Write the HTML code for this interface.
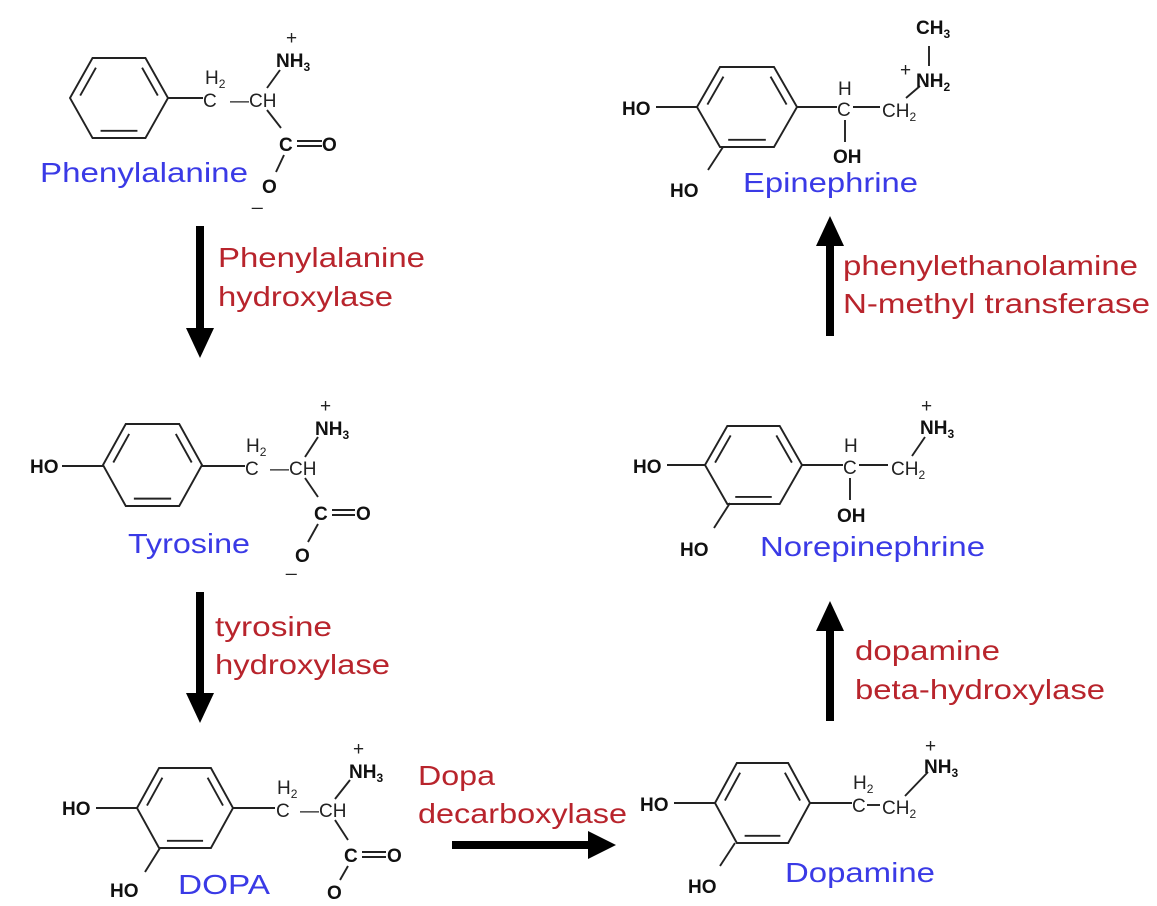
<!DOCTYPE html>
<html><head><meta charset="utf-8">
<style>
html,body{margin:0;padding:0;background:#fff;}
svg{display:block;}
.a{font-family:"Liberation Sans",sans-serif;font-weight:bold;font-size:19px;fill:#111;}
.t{font-family:"Liberation Sans",sans-serif;font-size:19px;fill:#222;}
.s{font-size:12px;}
.lab{font-family:"Liberation Sans",sans-serif;font-size:28px;fill:#3a3ae6;}
.enz{font-family:"Liberation Sans",sans-serif;font-size:28px;fill:#b8242c;}
line,polygon,polyline{stroke:#222;stroke-width:1.9;fill:none;}
</style></head>
<body>
<svg id="s" width="1157" height="906" viewBox="0 0 1157 906" xmlns="http://www.w3.org/2000/svg">
<!-- Phenylalanine -->
<line x1="168" y1="98" x2="203" y2="98"/>
<text class="t" x="203" y="107">C</text><text class="t" x="205" y="84">H<tspan class="s" dy="4">2</tspan></text>
<text class="t" x="230" y="107">—CH</text>
<line x1="267" y1="88" x2="280" y2="70"/>
<text class="a" x="276" y="67">NH<tspan class="s" dy="4">3</tspan></text>
<text class="t" x="286" y="44" font-size="15">+</text>
<line x1="267" y1="110" x2="281" y2="128"/>
<text class="a" x="279" y="151">C</text>
<line x1="297" y1="141" x2="322" y2="141"/><line x1="297" y1="146" x2="322" y2="146"/>
<text class="a" x="322" y="151">O</text>
<line x1="284" y1="155" x2="276" y2="172"/>
<text class="a" x="262" y="193">O</text>
<text class="t" x="252" y="205">_</text>
<text class="lab" x="40" y="182" textLength="208" lengthAdjust="spacingAndGlyphs">Phenylalanine</text>

<!-- Tyrosine -->
<text class="a" x="30" y="473">HO</text>
<line x1="62" y1="466" x2="103" y2="466"/>
<line x1="202" y1="466" x2="245" y2="466"/>
<text class="t" x="245" y="475">C</text><text class="t" x="246" y="452">H<tspan class="s" dy="4">2</tspan></text>
<text class="t" x="270" y="475">—CH</text>
<line x1="305" y1="457" x2="318" y2="437"/>
<text class="a" x="315" y="435">NH<tspan class="s" dy="4">3</tspan></text>
<text class="t" x="320" y="412" font-size="15">+</text>
<line x1="305" y1="478" x2="318" y2="497"/>
<text class="a" x="314" y="520">C</text>
<line x1="332" y1="510" x2="355" y2="510"/><line x1="332" y1="515" x2="355" y2="515"/>
<text class="a" x="356" y="520">O</text>
<line x1="318" y1="524" x2="308" y2="542"/>
<text class="a" x="295" y="562">O</text>
<text class="t" x="286" y="571">_</text>
<text class="lab" x="128" y="553" textLength="122" lengthAdjust="spacingAndGlyphs">Tyrosine</text>

<!-- DOPA -->
<text class="a" x="62" y="815">HO</text>
<line x1="96" y1="808" x2="137" y2="808"/>
<line x1="160" y1="848" x2="145" y2="872"/>
<text class="a" x="110" y="897">HO</text>
<line x1="233" y1="808" x2="275" y2="808"/>
<text class="t" x="276" y="817">C</text><text class="t" x="277" y="794">H<tspan class="s" dy="4">2</tspan></text>
<text class="t" x="300" y="817">—CH</text>
<line x1="335" y1="799" x2="350" y2="780"/>
<text class="a" x="349" y="778">NH<tspan class="s" dy="4">3</tspan></text>
<text class="t" x="353" y="755" font-size="15">+</text>
<line x1="335" y1="820" x2="348" y2="840"/>
<text class="a" x="344" y="862">C</text>
<line x1="362" y1="852" x2="386" y2="852"/><line x1="362" y1="857" x2="386" y2="857"/>
<text class="a" x="387" y="862">O</text>
<line x1="348" y1="866" x2="340" y2="880"/>
<text class="a" x="327" y="899">O</text>
<text class="lab" x="178" y="894" textLength="92" lengthAdjust="spacingAndGlyphs">DOPA</text>

<!-- Dopamine -->
<text class="a" x="640" y="811">HO</text>
<line x1="674" y1="803" x2="715" y2="803"/>
<line x1="735" y1="843" x2="720" y2="866"/>
<text class="a" x="688" y="893">HO</text>
<line x1="810" y1="803" x2="852" y2="803"/>
<text class="t" x="852" y="812">C</text><text class="t" x="853" y="789">H<tspan class="s" dy="4">2</tspan></text>
<line x1="867" y1="805" x2="880" y2="805"/>
<text class="t" x="882" y="814">CH<tspan class="s" dy="4">2</tspan></text>
<line x1="905" y1="796" x2="928" y2="772"/>
<text class="a" x="924" y="773">NH<tspan class="s" dy="4">3</tspan></text>
<text class="t" x="925" y="752" font-size="15">+</text>
<text class="lab" x="785" y="882" textLength="150" lengthAdjust="spacingAndGlyphs">Dopamine</text>

<!-- Norepinephrine -->
<text class="a" x="633" y="473">HO</text>
<line x1="667" y1="465" x2="705" y2="465"/>
<line x1="730" y1="503" x2="714" y2="528"/>
<text class="a" x="680" y="556">HO</text>
<line x1="802" y1="465" x2="843" y2="465"/>
<text class="t" x="843" y="474">C</text><text class="t" x="844" y="452">H</text>
<line x1="859" y1="465" x2="888" y2="465"/>
<text class="t" x="891" y="475">CH<tspan class="s" dy="4">2</tspan></text>
<line x1="850" y1="478" x2="850" y2="500"/>
<text class="a" x="837" y="522">OH</text>
<line x1="912" y1="456" x2="925" y2="437"/>
<text class="a" x="920" y="434">NH<tspan class="s" dy="4">3</tspan></text>
<text class="t" x="921" y="412" font-size="15">+</text>
<text class="lab" x="760" y="556" textLength="225" lengthAdjust="spacingAndGlyphs">Norepinephrine</text>

<!-- Epinephrine -->
<text class="a" x="622" y="115">HO</text>
<line x1="656" y1="107" x2="697" y2="107"/>
<line x1="723" y1="147" x2="708" y2="170"/>
<text class="a" x="670" y="197">HO</text>
<line x1="797" y1="107" x2="837" y2="107"/>
<text class="t" x="837" y="116">C</text><text class="t" x="838" y="95">H</text>
<line x1="853" y1="107" x2="880" y2="107"/>
<text class="t" x="882" y="117">CH<tspan class="s" dy="4">2</tspan></text>
<line x1="845" y1="120" x2="845" y2="142"/>
<text class="a" x="833" y="163">OH</text>
<line x1="906" y1="98" x2="920" y2="86"/>
<text class="t" x="900" y="76" font-size="15">+</text>
<text class="a" x="916" y="87">NH<tspan class="s" dy="4">2</tspan></text>
<line x1="929" y1="66" x2="929" y2="46"/>
<text class="a" x="916" y="34">CH<tspan class="s" dy="4">3</tspan></text>
<text class="lab" x="743" y="192" textLength="175" lengthAdjust="spacingAndGlyphs">Epinephrine</text>

<!-- Arrows -->
<g>
<rect x="196" y="226" width="8" height="105" style="fill:#000"/>
<polygon points="186,328 214,328 200,358" style="fill:#000;stroke:none"/>
<rect x="196" y="592" width="8" height="105" style="fill:#000"/>
<polygon points="186,693 214,693 200,723" style="fill:#000;stroke:none"/>
<rect x="452" y="841" width="140" height="8" style="fill:#000"/>
<polygon points="588,831 588,859 616,845" style="fill:#000;stroke:none"/>
<rect x="826" y="243" width="8" height="93" style="fill:#000"/>
<polygon points="816,246 844,246 830,216" style="fill:#000;stroke:none"/>
<rect x="826" y="628" width="8" height="93" style="fill:#000"/>
<polygon points="816,631 844,631 830,601" style="fill:#000;stroke:none"/>
</g>

<text class="enz" x="218" y="267" textLength="207" lengthAdjust="spacingAndGlyphs">Phenylalanine</text>
<text class="enz" x="218" y="306" textLength="175" lengthAdjust="spacingAndGlyphs">hydroxylase</text>
<text class="enz" x="215" y="636" textLength="117" lengthAdjust="spacingAndGlyphs">tyrosine</text>
<text class="enz" x="215" y="674" textLength="175" lengthAdjust="spacingAndGlyphs">hydroxylase</text>
<text class="enz" x="418" y="785" textLength="77" lengthAdjust="spacingAndGlyphs">Dopa</text>
<text class="enz" x="418" y="823" textLength="209" lengthAdjust="spacingAndGlyphs">decarboxylase</text>
<text class="enz" x="843" y="275" textLength="295" lengthAdjust="spacingAndGlyphs">phenylethanolamine</text>
<text class="enz" x="843" y="313" textLength="307" lengthAdjust="spacingAndGlyphs">N-methyl transferase</text>
<text class="enz" x="855" y="660" textLength="145" lengthAdjust="spacingAndGlyphs">dopamine</text>
<text class="enz" x="855" y="699" textLength="250" lengthAdjust="spacingAndGlyphs">beta-hydroxylase</text>
<g id="rings"></g>
</svg>
<script>
var rings=[[70,98,98,80],[103,465,99,82],[137,808,96,80],[715,803,95,80],[705,465,97,78],[697,107,100,80]];
var g=document.getElementById('rings'),h='';
rings.forEach(function(r){
 var x=r[0],y=r[1],w=r[2],hh=r[3]/2,q=w*0.23;
 var P=[[x,y],[x+q,y-hh],[x+w-q,y-hh],[x+w,y],[x+w-q,y+hh],[x+q,y+hh]];
 h+='<polygon points="'+P.map(function(p){return p.join(',')}).join(' ')+'"/>';
 var cx=x+w/2,cy=y;
 [[0,1],[2,3],[4,5]].forEach(function(e){
  var a=P[e[0]],b=P[e[1]],k=0.82;
  var ax=cx+(a[0]-cx)*k,ay=cy+(a[1]-cy)*k,bx=cx+(b[0]-cx)*k,by=cy+(b[1]-cy)*k;
  var mx=(ax+bx)/2,my=(ay+by)/2,s=0.85;
  h+='<line x1="'+(mx+(ax-mx)*s)+'" y1="'+(my+(ay-my)*s)+'" x2="'+(mx+(bx-mx)*s)+'" y2="'+(my+(by-my)*s)+'"/>';
 });
});
g.innerHTML=h;
</script>
</body></html>
